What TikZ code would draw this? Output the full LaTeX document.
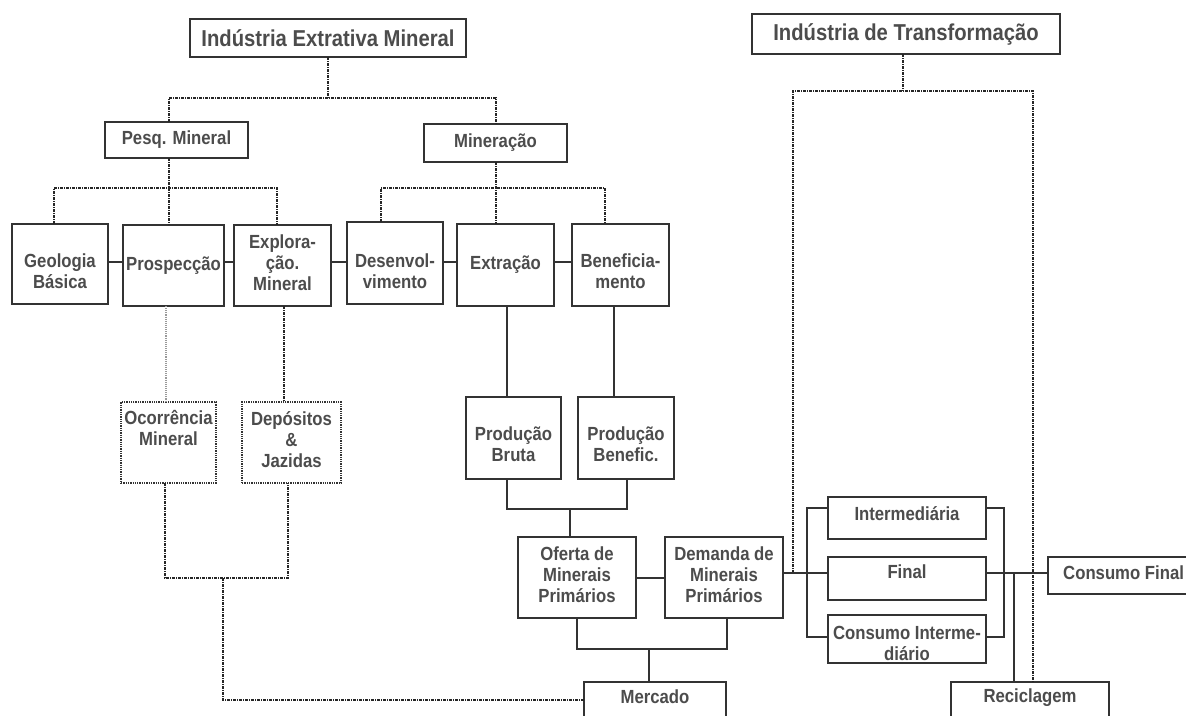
\documentclass[tikz,border=0pt]{standalone}
\usepackage{fontspec}
\newfontfamily\lab[FakeStretch=0.88]{Liberation Sans}
\begin{document}
\begin{tikzpicture}[x=1pt,y=-1pt,
  box/.style 2 args={draw=black!80, line width=1.3pt, fill=white, minimum width=#1, minimum height=#2, inner sep=0pt, outer sep=0pt},
  dbox/.style 2 args={box={#1}{#2}, densely dotted, line width=1.7pt},
  txt/.style={font=\lab\bfseries\fontsize{19}{21}\selectfont, text=black!70, align=center, inner sep=0pt},
  ttl/.style={font=\lab\bfseries\fontsize{23}{26}\selectfont, text=black!70},
  dd/.style={line width=1.1pt, black!85, dash pattern=on 3pt off 1pt on 1pt off 1pt},
  sl/.style={line width=1.3pt, black!80},
  gd/.style={line width=1.1pt, black!40, densely dotted}]
\useasboundingbox (0,0) rectangle (1186,715);
% levels and columns
\coordinate (h1) at (0,98);   \coordinate (h2) at (0,188);
\coordinate (hT) at (0,91);   \coordinate (r1) at (0,262);
\coordinate (hJ) at (0,509);  \coordinate (hM) at (0,649);
\coordinate (hL) at (0,578);  \coordinate (hB) at (0,700);
\coordinate (hD) at (0,573);  \coordinate (hOD) at (0,578);
\coordinate (hI) at (0,508);  \coordinate (hC) at (0,637);
\coordinate (cP) at (169,0);  \coordinate (cMi) at (496,0);
\coordinate (cGeo) at (54,0); \coordinate (cEx) at (277,0);
\coordinate (cDe) at (381,0); \coordinate (cBe) at (605,0);
\coordinate (cO) at (166,0);  \coordinate (cX2) at (284,0);
\coordinate (cE2) at (507,0); \coordinate (cB2) at (614,0);
\coordinate (cB3) at (627,0); \coordinate (cOf) at (570,0);
\coordinate (cO1) at (577,0); \coordinate (cD1) at (727,0);
\coordinate (cMe) at (649,0); \coordinate (cOc) at (165,0);
\coordinate (cDp) at (288,0); \coordinate (cLm) at (223,0);
\coordinate (cT) at (903,0);  \coordinate (cL) at (793,0);
\coordinate (cR) at (1033,0); \coordinate (cBL) at (807,0);
\coordinate (cBR) at (1004,0);\coordinate (cRc) at (1014,0);

% boxes
\node[box={276pt}{38pt}, ttl] (t1) at (328,38) {Indústria Extrativa Mineral};
\node[box={308pt}{40pt}, ttl] (t2) at (906,34) {Indústria de Transformação};
\node[box={143pt}{36pt}, txt] (pesq) at (176.5,140) {Pesq. Mineral};
\node[box={143pt}{38pt}, txt] (miner) at (495.5,143) {Mineração};
\node[box={96pt}{80pt}] (geo) at (60,264) {};
\node[txt] (geoT) at (60,271) {Geologia\\Básica};
\node[box={101pt}{81pt}, txt] (prosp) at (173.5,265.5) {Prospecção};
\node[box={97pt}{81pt}] (explo) at (282.5,265.5) {};
\node[txt] (exploT) at (282.5,263) {Explora-\\ção.\\Mineral};
\node[box={96pt}{82pt}] (desen) at (395,263) {};
\node[txt] (desenT) at (395,271) {Desenvol-\\vimento};
\node[box={97pt}{82pt}, txt] (extr) at (505.5,265) {Extração};
\node[box={97pt}{82pt}] (benef) at (620.5,265) {};
\node[txt] (benefT) at (620.5,271) {Beneficia-\\mento};
\node[dbox={95pt}{81pt}] (ocor) at (168.5,442.5) {};
\node[txt] (ocorT) at (168.5,428) {Ocorrência\\Mineral};
\node[dbox={99pt}{81pt}] (depos) at (291.5,442.5) {};
\node[txt] (deposT) at (291.5,440) {Depósitos\\\&\\Jazidas};
\node[box={95pt}{82pt}] (prodB) at (513.5,438) {};
\node[txt] (prodBT) at (513.5,444) {Produção\\Bruta};
\node[box={96pt}{82pt}] (prodN) at (626,438) {};
\node[txt] (prodNT) at (626,444) {Produção\\Benefic.};
\node[box={118pt}{81pt}] (ofer) at (577,577.5) {};
\node[txt] (oferT) at (577,575) {Oferta de\\Minerais\\Primários};
\node[box={118pt}{81pt}] (dem) at (724,577.5) {};
\node[txt] (demT) at (724,575) {Demanda de\\Minerais\\Primários};
\node[box={142pt}{50pt}] (merc) at (655,707) {};
\node[txt] (mercT) at (655,697) {Mercado};
\node[box={158pt}{42pt}] (inter) at (907,518) {};
\node[txt] (interT) at (907,514) {Intermediária};
\node[box={158pt}{43pt}] (final) at (907,578.5) {};
\node[txt] (finalT) at (907,572) {Final};
\node[box={158pt}{48pt}] (consI) at (907,639) {};
\node[txt] (consIT) at (907,643) {Consumo Interme-\\diário};
\node[box={182pt}{37pt}] (consF) at (1139,575.5) {};
\node[txt, anchor=west] (consFT) at (1063,573) {Consumo Final};
\node[box={158pt}{50pt}] (recic) at (1030,707) {};
\node[txt] (recicT) at (1030,698) {Reciclagem};

% hierarchy (dash-dot)
\draw[dd] (t1.south) -- (t1.south |- h1);
\draw[dd] (pesq.north -| cP) -- (cP |- h1) -- (cMi |- h1) -- (miner.north -| cMi);
\draw[dd] (geo.north -| cGeo) -- (cGeo |- h2) -- (cEx |- h2) -- (explo.north -| cEx);
\draw[dd] (pesq.south -| cP) -- (prosp.north -| cP);
\draw[dd] (desen.north -| cDe) -- (cDe |- h2) -- (cBe |- h2) -- (benef.north -| cBe);
\draw[dd] (miner.south -| cMi) -- (extr.north -| cMi);
\draw[dd] (t2.south -| cT) -- (cT |- hT);
\draw[dd] (cL |- hD) -- (cL |- hT) -- (cR |- hT) -- (recic.north -| cR);
\draw[gd] (prosp.south -| cO) -- (ocor.north -| cO);
\draw[dd] (explo.south -| cX2) -- (depos.north -| cX2);
\draw[dd] (ocor.south -| cOc) -- (cOc |- hL) -- (cDp |- hL) -- (depos.south -| cDp);
\draw[dd] (cLm |- hL) -- (cLm |- hB) -- (merc.west |- hB);

% solid connectors
\draw[sl] (geo.east |- r1) -- (prosp.west |- r1);
\draw[sl] (prosp.east |- r1) -- (explo.west |- r1);
\draw[sl] (explo.east |- r1) -- (desen.west |- r1);
\draw[sl] (desen.east |- r1) -- (extr.west |- r1);
\draw[sl] (extr.east |- r1) -- (benef.west |- r1);
\draw[sl] (extr.south -| cE2) -- (prodB.north -| cE2);
\draw[sl] (benef.south -| cB2) -- (prodN.north -| cB2);
\draw[sl] (prodB.south -| cE2) -- (cE2 |- hJ) -- (cB3 |- hJ) -- (prodN.south -| cB3);
\draw[sl] (cOf |- hJ) -- (ofer.north -| cOf);
\draw[sl] (ofer.east |- hOD) -- (dem.west |- hOD);
\draw[sl] (ofer.south -| cO1) -- (cO1 |- hM) -- (cD1 |- hM) -- (dem.south -| cD1);
\draw[sl] (cMe |- hM) -- (merc.north -| cMe);
\draw[sl] (dem.east |- hD) -- (final.west |- hD);
\draw[sl] (inter.west |- hI) -- (cBL |- hI) -- (cBL |- hC) -- (consI.west |- hC);
\draw[sl] (inter.east |- hI) -- (cBR |- hI) -- (cBR |- hC) -- (consI.east |- hC);
\draw[sl] (final.east |- hD) -- (consF.west |- hD);
\draw[sl] (cRc |- hD) -- (recic.north -| cRc);
\end{tikzpicture}
\end{document}
